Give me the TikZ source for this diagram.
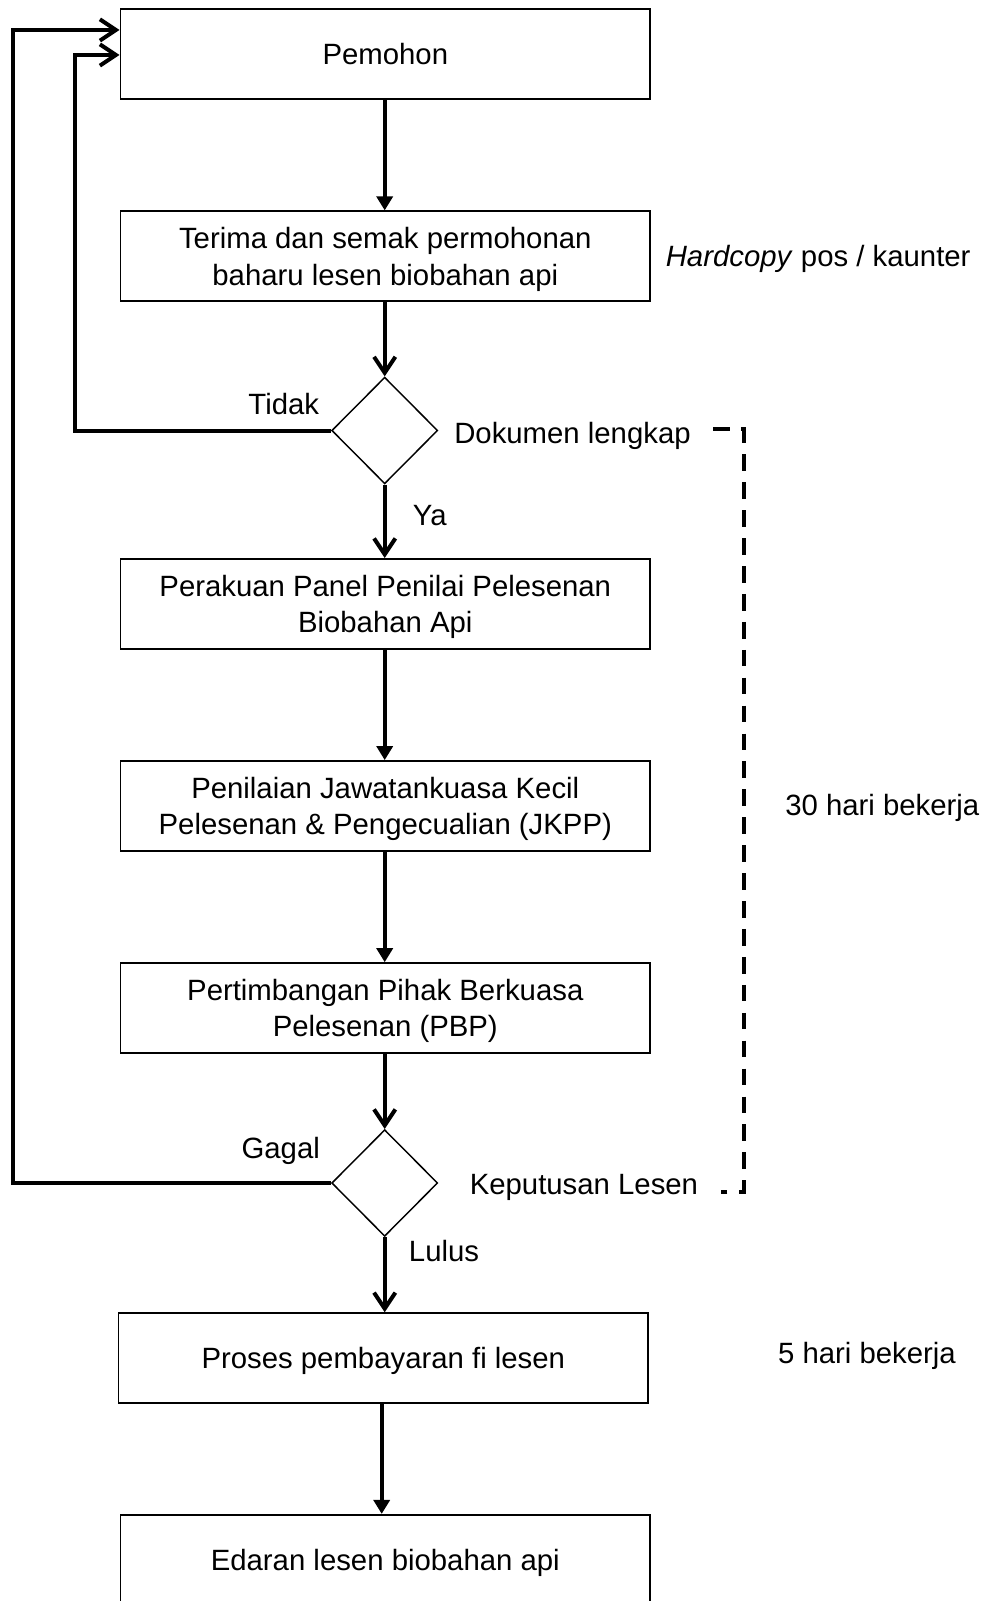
\documentclass[tikz,border=0pt]{standalone}
\usepackage{fontspec}
\setmainfont{Liberation Sans}
\usetikzlibrary{arrows.meta,shapes.geometric}
\begin{document}
\begin{tikzpicture}[x=0.75pt,y=-0.75pt,
  font=\fontsize{22}{27.5}\selectfont,
  every node/.style={text depth=0pt},
  procbox/.style={draw=black,line width=1.3pt,minimum width=397.4pt,minimum height=67.4pt,inner sep=0pt,align=center},
  decbox/.style={draw=black,line width=1.1pt,diamond,aspect=1,minimum width=79.5pt,minimum height=80pt,inner sep=0pt},
  lbl/.style={inner sep=0pt},
  openarr/.style={line width=3pt,-{Straight Barb[length=12pt,width=16pt]}},
  fillarr/.style={line width=3pt,-{Triangle[length=10.5pt,width=12pt]}},
  bracket/.style={line width=3pt,dash pattern=on 12.5pt off 8.44pt}
]
\useasboundingbox (0,0) rectangle (984,1601);

\node[procbox] (b1) at (385.3,54.1) {Pemohon};
\node[procbox] (b2) at (385.3,256.2) {Terima dan semak permohonan\\baharu lesen biobahan api};
\node[decbox] (d1) at (384.7,430.5) {};
\node[procbox] (b3) at (385.3,603.8) {Perakuan Panel Penilai Pelesenan\\Biobahan Api};
\node[procbox] (b4) at (385.3,805.9) {Penilaian Jawatankuasa Kecil\\Pelesenan \& Pengecualian (JKPP)};
\node[procbox] (b5) at (385.3,1008) {Pertimbangan Pihak Berkuasa\\Pelesenan (PBP)};
\node[decbox] (d2) at (384.7,1183) {};
\node[procbox] (b6) at (383.3,1358) {Proses pembayaran fi lesen};
\node[procbox] (b7) at (385.3,1559.7) {Edaran lesen biobahan api};

\node[lbl,anchor=west] (t1) at (665.5,256) {\textit{Hardcopy} pos / kaunter};
\node[lbl] (t2) at (283.8,404.2) {Tidak};
\node[lbl,anchor=west] (t3) at (454,432.8) {Dokumen lengkap};
\node[lbl] (t4) at (429.7,515) {Ya};
\node[lbl,anchor=west] (t5) at (785,805.3) {30 hari bekerja};
\node[lbl] (t6) at (280.7,1148.3) {Gagal};
\node[lbl,anchor=west] (t7) at (469.5,1184) {Keputusan Lesen};
\node[lbl] (t8) at (444,1250.4) {Lulus};
\node[lbl,anchor=west] (t9) at (777.8,1352.4) {5 hari bekerja};

\draw[fillarr] (b1.south -| d1) -- (b2.north -| d1);
\draw[openarr] (b2.south -| d1) -- (d1.north);
\draw[openarr] (d1.south) -- (b3.north -| d1);
\draw[fillarr] (b3.south -| d1) -- (b4.north -| d1);
\draw[fillarr] (b4.south -| d1) -- (b5.north -| d1);
\draw[openarr] (b5.south -| d1) -- (d2.north);
\draw[openarr] (d2.south) -- (b6.north -| d2);
\coordinate (c7) at (381.7,0);
\draw[fillarr] (b6.south -| c7) -- (b7.north -| c7);

\coordinate (lA) at (75,55);
\coordinate (lB) at (13.3,30);
\draw[openarr] (d1.west) -| (lA) -- (lA -| b1.west);
\draw[openarr] (d2.west) -| (lB) -- (lB -| b1.west);

\coordinate (k1) at (713,429);
\coordinate (k2) at (743.5,429);
\coordinate (k3) at (743.5,1192);
\coordinate (k4) at (721,1192);
\draw[bracket] (k1) -- (k2) -- (k3) -- (k4);
\end{tikzpicture}
\end{document}
